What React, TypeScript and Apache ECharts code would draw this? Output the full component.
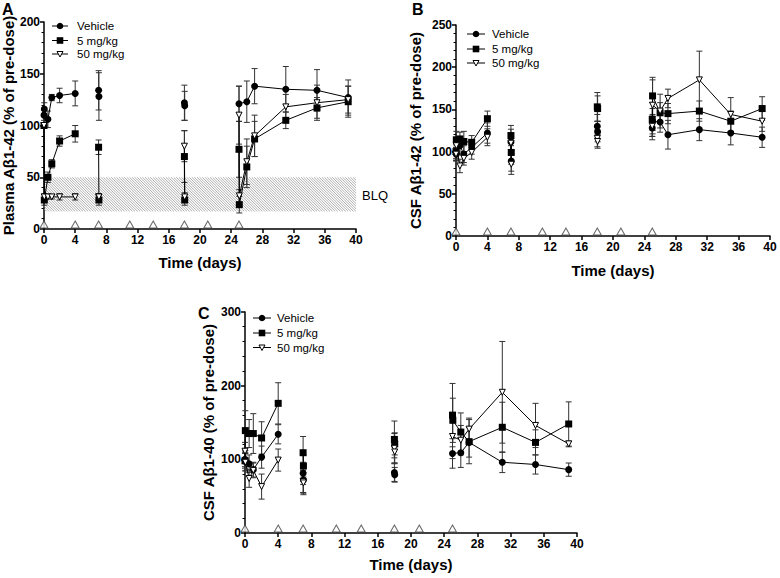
import React, { useEffect, useRef } from 'react';
import * as echarts from 'echarts';

type Pt = [number, number, number]; // [day, mean, error]

const DOSE_DAYS = [0, 4, 7, 11, 14, 18, 21, 25];
const SERIES_NAMES = ['Vehicle', '5 mg/kg', '50 mg/kg'];
const BLQ_BAND = [17, 50];

// Panel A: Plasma Aβ1-42
const A_VEHICLE: Pt[][] = [
  [[0, 110, 5], [0.04, 116, 6], [0.5, 106, 8], [1, 127, 3], [2, 129, 7], [4, 131, 12]],
  [[7, 134, 19], [7.04, 128, 23]],
  [[18, 122, 17], [18.04, 119, 14]],
  [[25, 121, 17], [26, 123, 20], [27, 138, 17], [31, 135, 22], [35, 134, 20], [39, 127, 17]],
];
const A_5MG: Pt[][] = [
  [[0, 100, 0], [0.04, 28, 5], [0.5, 50, 5], [1, 63, 4], [2, 85, 5], [4, 92, 8]],
  [[7, 79, 7], [7.04, 28, 5]],
  [[18, 70, 25], [18.04, 28, 5]],
  [[25, 77, 27], [25.04, 23.5, 8], [26, 60, 20], [27, 87, 17], [31, 105, 8], [35, 117, 10], [39, 123, 15]],
];
const A_50MG: Pt[][] = [
  [[0, 100, 0], [0.04, 31, 3], [0.5, 31, 2], [1, 31, 2], [2, 31, 3], [4, 31, 3]],
  [[7, 31, 3], [7.04, 31, 2]],
  [[18, 80, 15], [18.04, 31, 4]],
  [[25, 110, 28], [25.04, 32, 6], [26, 65, 22], [27, 90, 20], [31, 118, 12], [35, 122, 17], [39, 125, 13]],
];

// Panel B: CSF Aβ1-42
const B_VEHICLE: Pt[][] = [
  [[0, 100, 8], [0.04, 97, 8], [0.5, 107, 10], [1, 97, 10], [2, 105, 8], [4, 122, 12]],
  [[7, 111.5, 15], [7.04, 88.8, 12]],
  [[18, 130, 14], [18.04, 123.6, 12]],
  [[25, 128, 14], [25.04, 136, 15], [26, 135, 12], [27, 120, 17], [31, 126, 13], [35, 122, 14], [39, 117, 12]],
];
const B_5MG: Pt[][] = [
  [[0, 100, 10], [0.04, 114, 10], [0.5, 115, 8], [1, 112, 12], [2, 111, 8], [4, 139, 9]],
  [[7, 119, 12], [7.04, 99, 14]],
  [[18, 153, 17], [18.04, 151, 15]],
  [[25, 138, 20], [25.04, 166, 22], [26, 146, 12], [27, 145, 12], [31, 148, 12], [35, 136, 12], [39, 151, 14]],
];
const B_50MG: Pt[][] = [
  [[0, 97, 8], [0.04, 107, 8], [0.5, 83, 8], [1, 92, 8], [2, 99, 8], [4, 117, 10]],
  [[7, 110, 12], [7.04, 85, 12]],
  [[18, 115.7, 10], [18.04, 112, 8]],
  [[25, 130, 12], [25.04, 155, 30], [26, 148, 20], [27, 163, 11], [31, 185, 34], [35, 144, 20], [39, 136, 12]],
];

// Panel C: CSF Aβ1-40
const C_VEHICLE: Pt[][] = [
  [[0, 100, 10], [0.04, 97, 12], [0.5, 94, 12], [1, 86, 10], [2, 103, 15], [4, 134, 13]],
  [[7, 81, 15], [7.04, 72, 20]],
  [[18, 82, 12], [18.04, 79, 10]],
  [[25, 108, 20], [26, 109, 20], [27, 123, 20], [31, 96, 14], [35, 93, 13], [39, 86, 9]],
];
const C_5MG: Pt[][] = [
  [[0, 98, 10], [0.04, 139, 27], [0.5, 135, 19], [1, 135, 27], [2, 129, 22], [4, 176, 28]],
  [[7, 109, 22], [7.04, 91, 15]],
  [[18, 127, 25], [18.04, 121, 15]],
  [[25, 160, 43], [25.04, 153, 30], [26, 137, 26], [27, 124, 30], [31, 143.5, 34], [35, 123, 17], [39, 148, 30]],
];
const C_50MG: Pt[][] = [
  [[0, 111, 12], [0.04, 96, 12], [0.5, 74, 12], [1, 85, 10], [2, 63, 17], [4, 99, 15]],
  [[7, 70, 15], [7.04, 68, 14]],
  [[18, 115, 20], [18.04, 110, 15]],
  [[25, 131, 30], [26, 126, 20], [27, 141, 15], [31, 191, 69], [35, 146, 30], [39, 121, 4]],
];

const FONT = "'Liberation Sans', Arial, Helvetica, sans-serif";

const SYMBOLS = [
  { symbol: 'circle', symbolSize: 7, symbolRotate: 0, itemStyle: { color: '#000' } },
  { symbol: 'rect', symbolSize: 7, symbolRotate: 0, itemStyle: { color: '#000' } },
  { symbol: 'triangle', symbolSize: 6, symbolRotate: 180, itemStyle: { color: '#fff', borderColor: '#000', borderWidth: 1 } },
];

function lineData(segs: Pt[][]) {
  const out: any[] = [];
  segs.forEach((seg, i) => {
    if (i > 0) out.push([(segs[i - 1][segs[i - 1].length - 1][0] + seg[0][0]) / 2, '-']);
    seg.forEach((p) => out.push([p[0], p[1]]));
  });
  return out;
}

function errRender(params: any, api: any) {
  const x = api.value(0);
  const y = api.value(1);
  const e = api.value(2);
  if (!e) return null;
  const t = api.coord([x, y + e]);
  const b = api.coord([x, y - e]);
  const w = 3;
  const style = { stroke: '#333', lineWidth: 1 };
  return {
    type: 'group',
    children: [
      { type: 'line', shape: { x1: t[0], y1: t[1], x2: b[0], y2: b[1] }, style },
      { type: 'line', shape: { x1: t[0] - w, y1: t[1], x2: t[0] + w, y2: t[1] }, style },
      { type: 'line', shape: { x1: b[0] - w, y1: b[1], x2: b[0] + w, y2: b[1] }, style },
    ],
  };
}

function blqRender(params: any, api: any) {
  const p0 = api.coord([api.value(0), api.value(3)]);
  const p1 = api.coord([api.value(2), api.value(1)]);
  const x0 = p0[0], y0 = p0[1], x1 = p1[0], y1 = p1[1];
  const s = 2.6;
  const children: any[] = [];
  const style = { stroke: '#9a9a9a', lineWidth: 0.8 };
  for (let c = x0 - y1; c <= x1 - y0; c += s) {
    const ya = Math.max(y0, x0 - c);
    const yb = Math.min(y1, x1 - c);
    if (yb <= ya) continue;
    children.push({ type: 'line', shape: { x1: ya + c, y1: ya, x2: yb + c, y2: yb }, style });
  }
  return { type: 'group', children };
}

function panelSeries(idx: number, groups: Pt[][][]) {
  const series: any[] = [];
  groups.forEach((segs) => {
    series.push({
      type: 'custom',
      xAxisIndex: idx,
      yAxisIndex: idx,
      data: segs.flat(),
      encode: { x: 0, y: 1 },
      renderItem: errRender,
      silent: true,
      z: 2,
    });
  });
  groups.forEach((segs, g) => {
    series.push({
      type: 'line',
      name: SERIES_NAMES[g],
      xAxisIndex: idx,
      yAxisIndex: idx,
      data: lineData(segs),
      connectNulls: false,
      symbol: SYMBOLS[g].symbol,
      symbolSize: SYMBOLS[g].symbolSize,
      symbolRotate: SYMBOLS[g].symbolRotate,
      showAllSymbol: true,
      itemStyle: SYMBOLS[g].itemStyle,
      lineStyle: { color: '#000', width: 1 },
      clip: false,
      z: 3 + g,
    });
  });
  series.push({
    type: 'scatter',
    xAxisIndex: idx,
    yAxisIndex: idx,
    data: DOSE_DAYS.map((d) => [d, 0]),
    symbol: 'triangle',
    symbolSize: [8, 7],
    symbolOffset: [0, -4.5],
    itemStyle: { color: '#fff', borderColor: '#444', borderWidth: 1 },
    clip: false,
    silent: true,
    z: 8,
  });
  return series;
}

function xAxis(idx: number, gap: number) {
  return {
    type: 'value',
    gridIndex: idx,
    min: 0,
    max: 40,
    interval: 4,
    name: 'Time (days)',
    nameLocation: 'middle',
    nameGap: gap,
    nameTextStyle: { fontFamily: FONT, fontWeight: 'bold', fontSize: 15, color: '#000' },
    axisLine: { show: true, lineStyle: { color: '#000', width: 1.5 } },
    axisTick: { show: true, length: 4, lineStyle: { color: '#000', width: 1.5 } },
    axisLabel: { fontFamily: FONT, fontWeight: 'bold', fontSize: 12, color: '#000', margin: 5 },
    splitLine: { show: false },
  };
}

function yAxis(idx: number, max: number, interval: number, name: string, gap: number) {
  return {
    type: 'value',
    gridIndex: idx,
    min: 0,
    max,
    interval,
    name,
    nameLocation: 'middle',
    nameGap: gap,
    nameTextStyle: { fontFamily: FONT, fontWeight: 'bold', fontSize: 15, color: '#000' },
    axisLine: { show: true, lineStyle: { color: '#000', width: 1.5 } },
    axisTick: { show: true, length: 4, lineStyle: { color: '#000', width: 1.5 } },
    minorTick: { show: true, splitNumber: 5, length: 2.5, lineStyle: { color: '#000', width: 1 } },
    axisLabel: { fontFamily: FONT, fontWeight: 'bold', fontSize: 12, color: '#000', margin: 4 },
    splitLine: { show: false },
  };
}

// Hand-drawn legend (line + marker + label), one per panel
function legendGraphic(lineX0: number, lineX1: number, textX: number, rows: number[]) {
  const children: any[] = [];
  const cx = (lineX0 + lineX1) / 2;
  rows.forEach((y, g) => {
    children.push({ type: 'line', shape: { x1: lineX0, y1: y, x2: lineX1, y2: y }, style: { stroke: '#000', lineWidth: 1 } });
    if (g === 0) children.push({ type: 'circle', shape: { cx, cy: y, r: 3.3 }, style: { fill: '#000' } });
    if (g === 1) children.push({ type: 'rect', shape: { x: cx - 3.3, y: y - 3.3, width: 6.6, height: 6.6 }, style: { fill: '#000' } });
    if (g === 2)
      children.push({
        type: 'polygon',
        shape: { points: [[cx - 3, y - 2.5], [cx + 3, y - 2.5], [cx, y + 3]] },
        style: { fill: '#fff', stroke: '#000', lineWidth: 1 },
      });
    children.push({
      type: 'text',
      x: textX,
      y,
      style: { text: SERIES_NAMES[g], font: `11.5px ${FONT}`, fill: '#000', verticalAlign: 'middle', align: 'left' },
    });
  });
  return { type: 'group', children };
}

export default function App() {
  const ref = useRef<HTMLDivElement>(null);
  useEffect(() => {
    document.body.style.margin = '0';
    const chart = echarts.init(ref.current!, undefined, { renderer: 'svg' });
    const series: any[] = [
      {
        type: 'custom',
        xAxisIndex: 0,
        yAxisIndex: 0,
        data: [[0, BLQ_BAND[0], 40, BLQ_BAND[1]]],
        encode: { x: [0, 2], y: [1, 3] },
        renderItem: blqRender,
        silent: true,
        z: 1,
      },
      ...panelSeries(0, [A_VEHICLE, A_5MG, A_50MG]),
      ...panelSeries(1, [B_VEHICLE, B_5MG, B_50MG]),
      ...panelSeries(2, [C_VEHICLE, C_5MG, C_50MG]),
    ];
    chart.setOption({
      animation: false,
      grid: [
        { left: 44, top: 22, width: 312, height: 207 },
        { left: 456, top: 25, width: 314, height: 211 },
        { left: 245, top: 312, width: 332, height: 221 },
      ],
      xAxis: [xAxis(0, 26), xAxis(1, 27), xAxis(2, 24)],
      yAxis: [
        yAxis(0, 200, 50, 'Plasma Aβ1-42 (% of pre-dose)', 25),
        yAxis(1, 250, 50, 'CSF Aβ1-42 (% of pre-dose)', 33),
        yAxis(2, 300, 100, 'CSF Aβ1-40 (% of pre-dose)', 29),
      ],
      graphic: [
        legendGraphic(52, 68, 77, [26, 40.5, 54]),
        legendGraphic(467, 485, 492, [34, 49, 63]),
        legendGraphic(253, 271, 277, [318, 333, 347.5]),
        { type: 'text', left: 2, top: 1, style: { text: 'A', font: `bold 16px ${FONT}`, fill: '#000' } },
        { type: 'text', left: 412, top: 1, style: { text: 'B', font: `bold 16px ${FONT}`, fill: '#000' } },
        { type: 'text', left: 198, top: 305, style: { text: 'C', font: `bold 16px ${FONT}`, fill: '#000' } },
        { type: 'text', left: 362, top: 189, style: { text: 'BLQ', font: `13px ${FONT}`, fill: '#000' } },
      ],
      series,
    });
    return () => chart.dispose();
  }, []);
  return <div ref={ref} style={{ position: 'absolute', left: 0, top: 0, width: 780, height: 578 }} />;
}
